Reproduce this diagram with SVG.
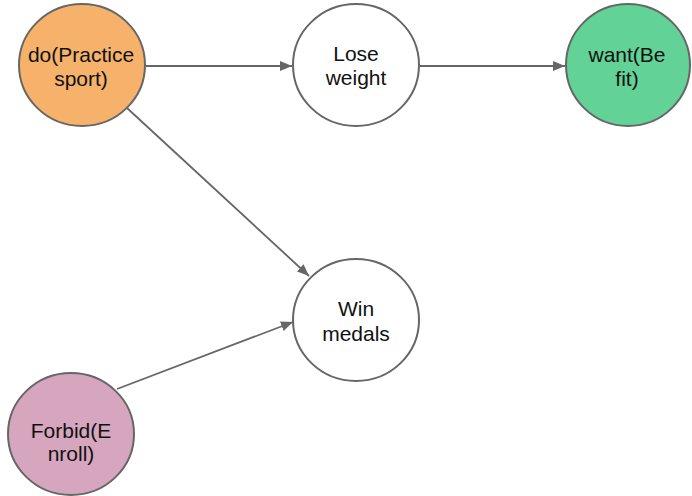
<svg xmlns="http://www.w3.org/2000/svg" width="692" height="496" viewBox="0 0 692 496">
  <defs>
    <marker id="arrow" viewBox="0 0 12 10" refX="12" refY="5" markerWidth="12" markerHeight="10" markerUnits="userSpaceOnUse" orient="auto">
      <path d="M0,0 L12,5 L0,10 z" fill="#666666"/>
    </marker>
  </defs>
  <style>
    .node { stroke: #666666; stroke-width: 2; }
    .label { font-family: "Liberation Sans", Arial, sans-serif; font-size: 21px; fill: #111111; text-anchor: middle; }
    .edge { stroke: #666666; stroke-width: 1.8; fill: none; marker-end: url(#arrow); }
  </style>
  <rect width="692" height="496" fill="#ffffff"/>
  <g id="connectors">
    <line class="edge" x1="146" y1="66" x2="292" y2="66"/>
    <line class="edge" x1="420" y1="66" x2="565" y2="66"/>
    <line class="edge" x1="127" y1="108" x2="309" y2="276"/>
    <line class="edge" x1="117" y1="389" x2="293" y2="322"/>
  </g>
  <g id="do-practice-sport">
    <ellipse class="node" cx="82" cy="65" rx="63" ry="61" fill="#F6B26B"/>
    <text class="label" x="81" y="62">do(Practice</text>
    <text class="label" x="81" y="86">sport)</text>
  </g>
  <g id="lose-weight">
    <ellipse class="node" cx="356" cy="65" rx="63" ry="61" fill="#ffffff"/>
    <text class="label" x="356" y="61">Lose</text>
    <text class="label" x="356" y="85">weight</text>
  </g>
  <g id="want-be-fit">
    <ellipse class="node" cx="628" cy="65" rx="62" ry="61" fill="#62D297"/>
    <text class="label" x="627" y="62">want(Be</text>
    <text class="label" x="627" y="86">fit)</text>
  </g>
  <g id="win-medals">
    <ellipse class="node" cx="356" cy="320" rx="63" ry="61" fill="#ffffff"/>
    <text class="label" x="356" y="316">Win</text>
    <text class="label" x="356" y="341">medals</text>
  </g>
  <g id="forbid-enroll">
    <ellipse class="node" cx="71" cy="434" rx="63" ry="61" fill="#D5A6BD"/>
    <text class="label" x="71" y="438">Forbid(E</text>
    <text class="label" x="71" y="461">nroll)</text>
  </g>
</svg>
